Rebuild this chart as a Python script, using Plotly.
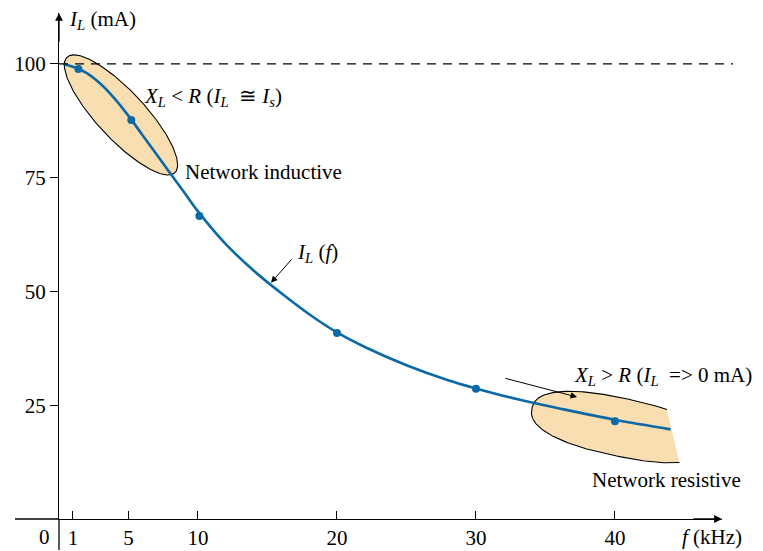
import numpy as np
import plotly.graph_objects as go

# I_L(f) curve
freq_khz = [0.3, 1, 2, 3, 4, 5, 6, 7, 8, 9, 10, 12, 14, 16, 18, 20, 22, 25, 28, 30, 33, 36, 40, 44]
current_ma = [100, 99.4, 98.0, 95.6, 92.4, 88.6, 84.4, 80.2, 76.0, 71.8, 67.6, 60.4, 54.6, 49.6, 45.0, 41.0, 37.8, 33.8, 30.5, 28.7, 26.3, 24.3, 21.8, 19.7]

# highlighted points on the curve
dot_freq_khz = [1.4, 5.2, 10.1, 20, 30, 40]
dot_current_ma = [98.9, 87.7, 66.6, 40.9, 28.6, 21.5]

x_ticks = [1, 5, 10, 20, 30, 40]
y_ticks = [25, 50, 75, 100]

FONT = "Liberation Serif"
BLUE = "#0b69a6"
PEACH = "#f8deb1"

# the page body adds an 8px margin, so the figure is drawn 8px smaller
PAGE = 8
W, H = 763 - PAGE, 551 - PAGE
AX_X, AX_Y = 59, 519          # where the axes cross on screen
M_L, M_T = AX_X - PAGE, 13 - PAGE
M_R, M_B = 41, 32
PW, PH = W - M_L - M_R, H - M_T - M_B
X_MAX = 47.7
Y_MAX = 111.2
KX = PW / X_MAX  # px per kHz
KY = PH / Y_MAX  # px per mA


def blob(a, b, tilt_deg, power=2.0, n=300):
    """(super)ellipse drawn in pixel space, returned as screen offsets"""
    t = np.linspace(0, 2 * np.pi, n)
    c, s = np.cos(t), np.sin(t)
    u = np.sign(c) * np.abs(c) ** (2 / power)
    v = np.sign(s) * np.abs(s) ** (2 / power)
    th = np.radians(tilt_deg)
    dx = a * u * np.cos(th) - b * v * np.sin(th)
    dy = a * u * np.sin(th) + b * v * np.cos(th)
    return dx, dy


def to_data(fc, ic, dx, dy):
    return fc + dx / KX, ic - dy / KY


fig = go.Figure()

# inductive region
fc1, ic1 = 4.46, 88.8
dx, dy = blob(79, 24, 47)
ex, ey = to_data(fc1, ic1, dx, dy)
fig.add_trace(go.Scatter(x=ex, y=ey, mode="lines", fill="toself", fillcolor=PEACH,
                         line=dict(color="black", width=1.1), hoverinfo="skip"))

# resistive region, cut off on the right
fc2, ic2 = 40.36, 20.2
cut_f, cut_i = [43.8, 44.7], [23.5, 12.3]
dx, dy = blob(90, 29, 12, power=2.4)
px1 = np.array([(cut_f[0] - fc2) * KX, -(cut_i[0] - ic2) * KY])
px2 = np.array([(cut_f[1] - fc2) * KX, -(cut_i[1] - ic2) * KY])
d = px2 - px1
keep = d[0] * (dy - px1[1]) - d[1] * (dx - px1[0]) > 0
ex, ey = to_data(fc2, ic2, dx[keep], dy[keep])
fig.add_trace(go.Scatter(x=ex, y=ey, mode="lines", fill="toself", fillcolor=PEACH,
                         line=dict(width=0), hoverinfo="skip"))
fig.add_trace(go.Scatter(x=ex, y=ey, mode="lines",
                         line=dict(color="black", width=1.1), hoverinfo="skip"))

fig.add_trace(go.Scatter(x=freq_khz, y=current_ma, mode="lines", line_shape="spline",
                         line=dict(color=BLUE, width=2.6)))
fig.add_trace(go.Scatter(x=dot_freq_khz, y=dot_current_ma, mode="markers",
                         marker=dict(color=BLUE, size=8)))

shapes = [
    # 100 mA reference
    dict(type="line", xref="paper", yref="paper", x0=0, x1=(733 - AX_X) / PW,
         y0=100 / Y_MAX, y1=100 / Y_MAX, line=dict(color="black", width=1.2, dash="9px,7px")),
    # axis stubs past the origin
    dict(type="line", xref="paper", yref="paper", x0=-44 / PW, x1=0, y0=0, y1=0,
         line=dict(color="black", width=1.3)),
    dict(type="line", xref="paper", yref="paper", x0=0, x1=0, y0=-31 / PH, y1=0,
         line=dict(color="black", width=1.3)),
]

tf = dict(family=FONT, size=21, color="black")
ann = [
    dict(xref="paper", yref="paper", x=1, y=0, ax=-30, ay=0, text="", showarrow=True,
         arrowhead=2, arrowsize=1.2, arrowwidth=1.3, arrowcolor="black"),
    dict(xref="paper", yref="paper", x=0, y=1, ax=0, ay=30, text="", showarrow=True,
         arrowhead=2, arrowsize=1.2, arrowwidth=1.3, arrowcolor="black"),
    dict(x=15.25, y=51.9, ax=16.83, ay=57.4, axref="x", ayref="y", text="", showarrow=True,
         arrowhead=2, arrowsize=1.3, arrowwidth=1, arrowcolor="black"),
    dict(x=37.27, y=26.8, ax=32.0, ay=31.0, axref="x", ayref="y", text="", showarrow=True,
         arrowhead=2, arrowsize=1.3, arrowwidth=1, arrowcolor="black"),
]
labels = [
    (0.55, 109.7, "<i>I<sub>L</sub></i> (mA)"),
    (6.0, 92.7, "<i>X<sub>L</sub></i> < <i>R</i> (<i>I<sub>L</sub></i>  ≅ <i>I<sub>s</sub></i>)"),
    (8.92, 76.3, "Network inductive"),
    (16.98, 58.5, "<i>I<sub>L</sub></i> (<i>f</i>)"),
    (36.9, 31.4, "<i>X<sub>L</sub></i> > <i>R</i> (<i>I<sub>L</sub></i>  => 0 mA)"),
    (38.2, 8.6, "Network resistive"),
]
for x, y, t in labels:
    ann.append(dict(x=x, y=y, text=t, showarrow=False, xanchor="left", yanchor="middle", font=tf))
# texts below the x axis sit outside the range, so place them on paper
ann.append(dict(xref="paper", yref="paper", x=(680 - AX_X) / PW, y=-18 / PH,
                text="<i>f</i> (kHz)", showarrow=False, xanchor="left", yanchor="middle", font=tf))
ann.append(dict(xref="paper", yref="paper", x=-15 / PW, y=-18 / PH, text="0",
                showarrow=False, xanchor="center", yanchor="middle", font=tf))

axis_style = dict(tickwidth=1.2, tickcolor="black", ticklen=8, showline=True,
                  linecolor="black", linewidth=1.3, showgrid=False, zeroline=False,
                  tickfont=tf, fixedrange=True, automargin=False)

fig.update_layout(
    template="none",
    width=W, height=H,
    margin=dict(l=M_L, r=M_R, t=M_T, b=M_B, autoexpand=False),
    plot_bgcolor="white", paper_bgcolor="white",
    showlegend=False,
    font=tf,
    shapes=shapes,
    annotations=ann,
    xaxis=dict(range=[0, X_MAX], tickvals=x_ticks, ticks="inside", **axis_style),
    yaxis=dict(range=[0, Y_MAX], tickvals=y_ticks, ticks="outside", **axis_style),
)

fig.write_html("out.html")
